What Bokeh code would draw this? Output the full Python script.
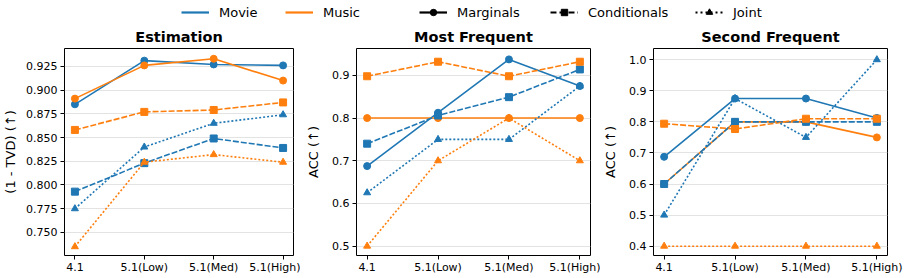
from bokeh.plotting import figure
from bokeh.layouts import column, row
from bokeh.models import FixedTicker, PrintfTickFormatter, Legend, LegendItem, Range1d
from bokeh.embed import file_html
from bokeh.resources import INLINE

versions = ["4.1", "5.1(Low)", "5.1(Med)", "5.1(High)"]
datasets = ["Movie", "Music"]
methods = ["Marginals", "Conditionals", "Joint"]

# Estimation: 1 - TVD
est_movie_marg = [0.885, 0.931, 0.927, 0.926]
est_music_marg = [0.891, 0.926, 0.933, 0.910]
est_movie_cond = [0.793, 0.823, 0.849, 0.839]
est_music_cond = [0.858, 0.877, 0.879, 0.887]
est_movie_joint = [0.775, 0.840, 0.865, 0.874]
est_music_joint = [0.735, 0.824, 0.832, 0.824]

# Most frequent: accuracy
mf_movie_marg = [0.6875, 0.8125, 0.9375, 0.875]
mf_music_marg = [0.8, 0.8, 0.8, 0.8]
mf_movie_cond = [0.740, 0.806, 0.849, 0.914]
mf_music_cond = [0.898, 0.932, 0.898, 0.932]
mf_movie_joint = [0.625, 0.75, 0.75, 0.875]
mf_music_joint = [0.5, 0.7, 0.8, 0.7]

# Second frequent: accuracy
sf_movie_marg = [0.6875, 0.875, 0.875, 0.8125]
sf_music_marg = [0.6, 0.8, 0.8, 0.75]
sf_movie_cond = [0.6, 0.8, 0.8, 0.8]
sf_music_cond = [0.794, 0.777, 0.810, 0.810]
sf_movie_joint = [0.5, 0.875, 0.75, 1.0]
sf_music_joint = [0.4, 0.4, 0.4, 0.4]

est_ticks = [0.750, 0.775, 0.800, 0.825, 0.850, 0.875, 0.900, 0.925]
mf_ticks = [0.5, 0.6, 0.7, 0.8, 0.9]
sf_ticks = [0.4, 0.5, 0.6, 0.7, 0.8, 0.9, 1.0]

FONT = "DejaVu Sans"
COLORS = {"Movie": "#1f77b4", "Music": "#ff7f0e"}
DASH = {"Marginals": "solid", "Conditionals": "6 2", "Joint": "2 2"}
LEGEND_DASH = {"Marginals": "solid", "Conditionals": "6 3", "Joint": "2 3"}
MARKER = {"Marginals": "circle", "Conditionals": "square", "Joint": "triangle"}

xs = list(range(len(versions)))


def panel(title, ylabel, series, ticks, fmt, yr, width, left, right, label_standoff):
    p = figure(width=width, height=256, output_backend="svg", toolbar_location=None,
               x_range=Range1d(-0.15, 3.15), y_range=Range1d(*yr),
               min_border_left=left, min_border_right=right,
               min_border_top=26, min_border_bottom=23)
    p.title.text = title
    p.title.align = "center"
    p.title.text_font = FONT
    p.title.text_font_size = "14.5px"
    p.title.text_font_style = "bold"
    p.title.text_color = "black"
    p.title.standoff = 8
    p.outline_line_color = "black"
    p.outline_line_width = 1
    p.xgrid.visible = False
    p.ygrid.grid_line_color = "#e3e3e3"
    p.ygrid.grid_line_width = 1
    p.ygrid.ticker = FixedTicker(ticks=ticks)

    p.xaxis.ticker = FixedTicker(ticks=xs)
    p.xaxis.major_label_overrides = {i: v for i, v in enumerate(versions)}
    p.yaxis.ticker = FixedTicker(ticks=ticks)
    p.yaxis.formatter = PrintfTickFormatter(format=fmt)
    p.yaxis.axis_label = ylabel
    p.yaxis.axis_label_text_font = FONT
    p.yaxis.axis_label_text_font_size = "13px"
    p.yaxis.axis_label_text_font_style = "normal"
    p.yaxis.axis_label_text_color = "black"
    p.yaxis.axis_label_standoff = label_standoff
    for ax in (p.xaxis, p.yaxis):
        ax.axis_line_color = None
        ax.major_tick_in = 0
        ax.major_tick_out = 4
        ax.major_tick_line_color = "black"
        ax.minor_tick_line_color = None
        ax.major_label_text_font = FONT
        ax.major_label_text_font_size = "11px"
        ax.major_label_text_color = "black"
    p.xaxis.major_label_standoff = 1
    p.yaxis.major_label_standoff = 3

    for method in methods:
        for ds in datasets:
            ys = series[(ds, method)]
            c = COLORS[ds]
            p.line(xs, ys, line_color=c, line_width=1.6, line_dash=DASH[method])
            p.scatter(xs, ys, marker=MARKER[method], size=7,
                      fill_color=c, line_color=c)
    return p


est = {("Movie", "Marginals"): est_movie_marg, ("Music", "Marginals"): est_music_marg,
       ("Movie", "Conditionals"): est_movie_cond, ("Music", "Conditionals"): est_music_cond,
       ("Movie", "Joint"): est_movie_joint, ("Music", "Joint"): est_music_joint}
mf = {("Movie", "Marginals"): mf_movie_marg, ("Music", "Marginals"): mf_music_marg,
      ("Movie", "Conditionals"): mf_movie_cond, ("Music", "Conditionals"): mf_music_cond,
      ("Movie", "Joint"): mf_movie_joint, ("Music", "Joint"): mf_music_joint}
sf = {("Movie", "Marginals"): sf_movie_marg, ("Music", "Marginals"): sf_music_marg,
      ("Movie", "Conditionals"): sf_movie_cond, ("Music", "Conditionals"): sf_music_cond,
      ("Movie", "Joint"): sf_movie_joint, ("Music", "Joint"): sf_music_joint}

p1 = panel("Estimation", "(1 - TVD) (\u2191)", est, est_ticks, "%.3f", (0.7257, 0.9438), 300, 59, 7, 5)
p2 = panel("Most Frequent", "ACC (\u2191)", mf, mf_ticks, "%.1f", (0.478, 0.963), 300, 56, 10, 8)
p3 = panel("Second Frequent", "ACC (\u2191)", sf, sf_ticks, "%.1f", (0.37, 1.036), 308, 53, 21, 8)

# Shared legend strip across the top; swatch renderers sit outside the visible range
lg = figure(width=908, height=22, output_backend="svg", toolbar_location=None,
            x_range=Range1d(0, 1), y_range=Range1d(0, 1),
            min_border_left=0, min_border_right=0, min_border_top=0, min_border_bottom=0)
lg.axis.visible = False
lg.grid.visible = False
lg.outline_line_color = None

swatch_x = [5, 6]
swatch_y = [5, 5]
entries = []
for ds in datasets:
    r = lg.line(swatch_x, swatch_y, line_color=COLORS[ds], line_width=2.2)
    entries.append((ds, [r]))
for method in methods:
    r1 = lg.line(swatch_x, swatch_y, line_color="black", line_width=2.2,
                 line_dash=LEGEND_DASH[method])
    r2 = lg.scatter(swatch_x, swatch_y, marker=MARKER[method], size=6,
                    fill_color="black", line_color="black")
    entries.append((method, [r1, r2]))

starts = [181, 285, 419, 550, 695]
for (label, rs), x0 in zip(entries, starts):
    leg = Legend(items=[LegendItem(label=label, renderers=rs)], location=(x0, 2),
                 orientation="horizontal", padding=0, margin=0,
                 glyph_width=28, glyph_height=16, label_height=16, label_standoff=10,
                 label_text_font=FONT, label_text_font_size="13px",
                 label_text_color="black",
                 border_line_color=None, background_fill_alpha=0)
    lg.add_layout(leg)

layout = column(lg, row(p1, p2, p3))
open("out.html", "w").write(file_html(layout, INLINE))
